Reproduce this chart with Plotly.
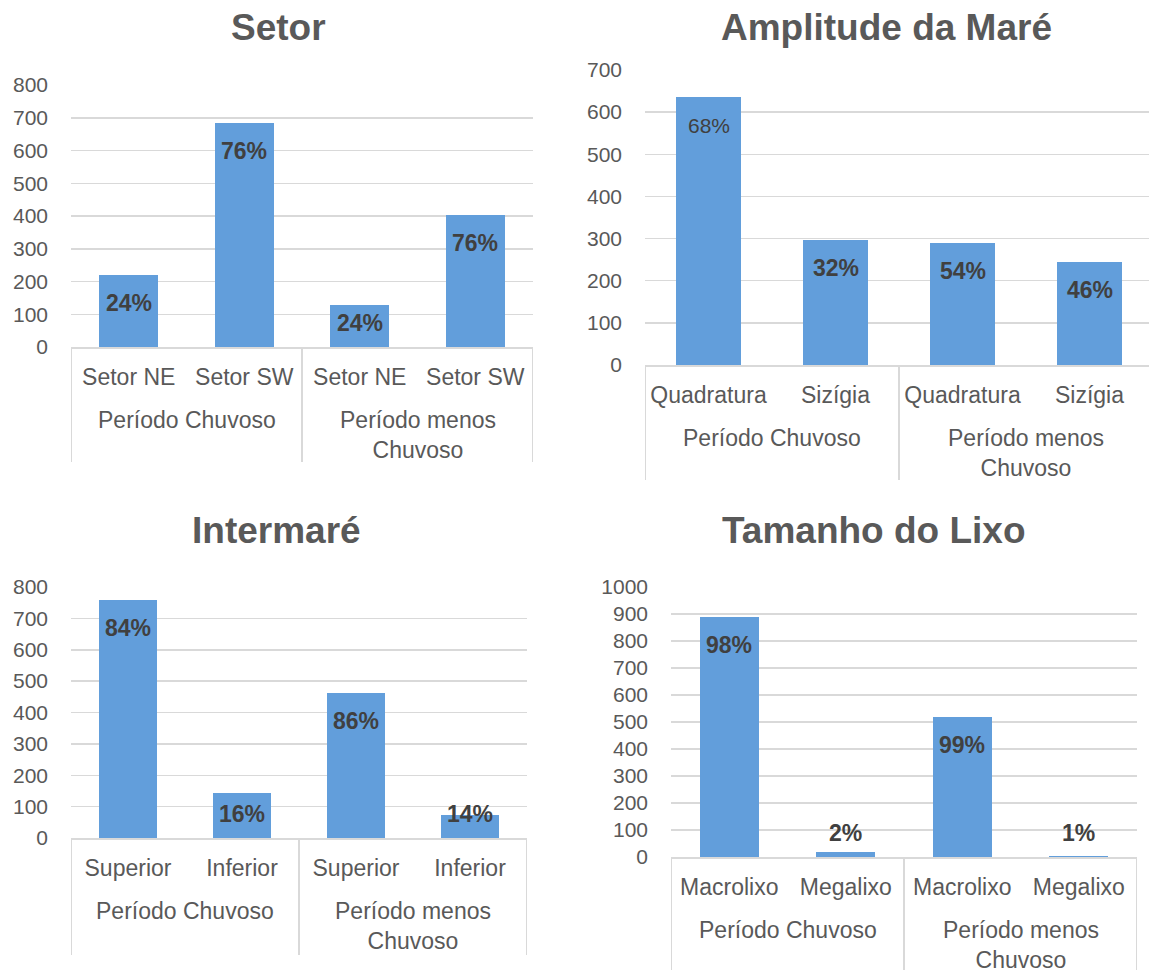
import plotly.graph_objects as go

# ---------------- data ----------------
period_groups = ["Período Chuvoso", "Período menos<br>Chuvoso"]

setor_cats = ["Setor NE", "Setor SW", "Setor NE", "Setor SW"]
setor_vals = [220, 685, 128, 403]
setor_pct = ["24%", "76%", "24%", "76%"]

mare_cats = ["Quadratura", "Sizígia", "Quadratura", "Sizígia"]
mare_vals = [635, 297, 289, 244]
mare_pct = ["68%", "32%", "54%", "46%"]

inter_cats = ["Superior", "Inferior", "Superior", "Inferior"]
inter_vals = [759, 143, 462, 73]
inter_pct = ["84%", "16%", "86%", "14%"]

lixo_cats = ["Macrolixo", "Megalixo", "Macrolixo", "Megalixo"]
lixo_vals = [888, 17, 518, 5]
lixo_pct = ["98%", "2%", "99%", "1%"]

titles = ["Setor", "Amplitude da Maré", "Intermaré", "Tamanho do Lixo"]

# ---------------- layout geometry (pixels) ----------------
W, H = 1149, 970
FONT = "Liberation Sans, Arial, sans-serif"
GRAY = "#595959"
DARK = "#404040"
GRID = "#d9d9d9"
BAR = "#629edb"

panels = [
    dict(cats=setor_cats, vals=setor_vals, pct=setor_pct, ymax=800, dtick=100,
         x0=71, x1=533, catw=115.5, ytop=85, ybase=347, bottom=462,
         title_xy=(278, 27), regular=set()),
    dict(cats=mare_cats, vals=mare_vals, pct=mare_pct, ymax=700, dtick=100,
         x0=645, x1=1149, catw=127, ytop=70, ybase=365, bottom=480,
         title_xy=(886, 27), regular={0}),
    dict(cats=inter_cats, vals=inter_vals, pct=inter_pct, ymax=800, dtick=100,
         x0=71, x1=527, catw=114, ytop=587, ybase=838, bottom=955,
         title_xy=(276, 530), regular=set()),
    dict(cats=lixo_cats, vals=lixo_vals, pct=lixo_pct, ymax=1000, dtick=100,
         x0=671, x1=1137, catw=116.5, ytop=587, ybase=857, bottom=970,
         title_xy=(874, 530), regular=set()),
]


def px_x(p):
    return p / W


def px_y(p):
    return 1 - p / H


fig = go.Figure()
annotations = []
shapes = []
layout_axes = {}

for k, (pnl, title) in enumerate(zip(panels, titles), start=1):
    sfx = "" if k == 1 else str(k)
    xa, ya = "x" + sfx, "y" + sfx
    idx = list(range(len(pnl["cats"])))
    xr_end = -0.5 + (pnl["x1"] - pnl["x0"]) / pnl["catw"]

    fig.add_trace(go.Bar(
        x=idx, y=pnl["vals"], xaxis=xa, yaxis=ya, width=0.51,
        marker=dict(color=BAR, line=dict(width=0)), showlegend=False,
        hoverinfo="skip"))

    layout_axes["xaxis" + sfx] = dict(
        domain=[px_x(pnl["x0"]), px_x(pnl["x1"])], anchor=ya,
        range=[-0.5, xr_end], tickmode="array", tickvals=idx,
        ticktext=pnl["cats"], showgrid=False, zeroline=False,
        showline=True, linecolor=GRID, linewidth=1.5,
        ticks="", ticklabelstandoff=9, automargin=False,
        tickfont=dict(family=FONT, size=23, color=GRAY), fixedrange=True)
    layout_axes["yaxis" + sfx] = dict(
        domain=[px_y(pnl["ybase"]), px_y(pnl["ytop"])], anchor=xa,
        range=[0, pnl["ymax"]], dtick=pnl["dtick"], tick0=0,
        showgrid=True, gridcolor=GRID, gridwidth=1.5, zeroline=False,
        showline=False, ticks="", ticklabelstandoff=22, automargin=False,
        tickfont=dict(family=FONT, size=21, color=GRAY), fixedrange=True)

    # data labels (inside end, Excel style)
    ppu = (pnl["ybase"] - pnl["ytop"]) / pnl["ymax"]
    for i, (v, t) in enumerate(zip(pnl["vals"], pnl["pct"])):
        yc = max(v - 28 / ppu, 24 / ppu)
        bold = i not in pnl["regular"]
        annotations.append(dict(
            x=i, y=yc, xref=xa, yref=ya, text=t, showarrow=False,
            xanchor="center", yanchor="middle",
            font=dict(family=FONT, size=23 if bold else 21, color=DARK,
                      weight="bold" if bold else "normal")))

    # group labels
    n = len(pnl["cats"])
    per = n // len(period_groups)
    for g, gname in enumerate(period_groups):
        annotations.append(dict(
            x=g * per + (per - 1) / 2, y=px_y(pnl["ybase"] + 58),
            xref=xa, yref="paper", text=gname, showarrow=False,
            xanchor="center", yanchor="top",
            font=dict(family=FONT, size=23, color=GRAY)))

    # dividers of the multi-level category axis
    for g in range(len(period_groups) + 1):
        xd = -0.5 + g * per
        shapes.append(dict(
            type="line", xref=xa, yref="paper", x0=xd, x1=xd,
            y0=px_y(pnl["ybase"]), y1=px_y(pnl["bottom"]),
            line=dict(color=GRID, width=2)))

    # title
    tx, ty = pnl["title_xy"]
    annotations.append(dict(
        x=px_x(tx), y=px_y(ty), xref="paper", yref="paper", text=title,
        showarrow=False, xanchor="center", yanchor="middle",
        font=dict(family=FONT, size=37, color=GRAY, weight="bold")))

fig.update_layout(
    width=W, height=H, margin=dict(l=0, r=0, t=0, b=0, autoexpand=False),
    paper_bgcolor="white", plot_bgcolor="white",
    annotations=annotations, shapes=shapes, bargap=0,
    **layout_axes)

fig.write_html(
    "out.html",
    config={"displayModeBar": False, "staticPlot": True},
    post_script="document.body.style.margin='0';document.body.style.overflow='hidden';")
